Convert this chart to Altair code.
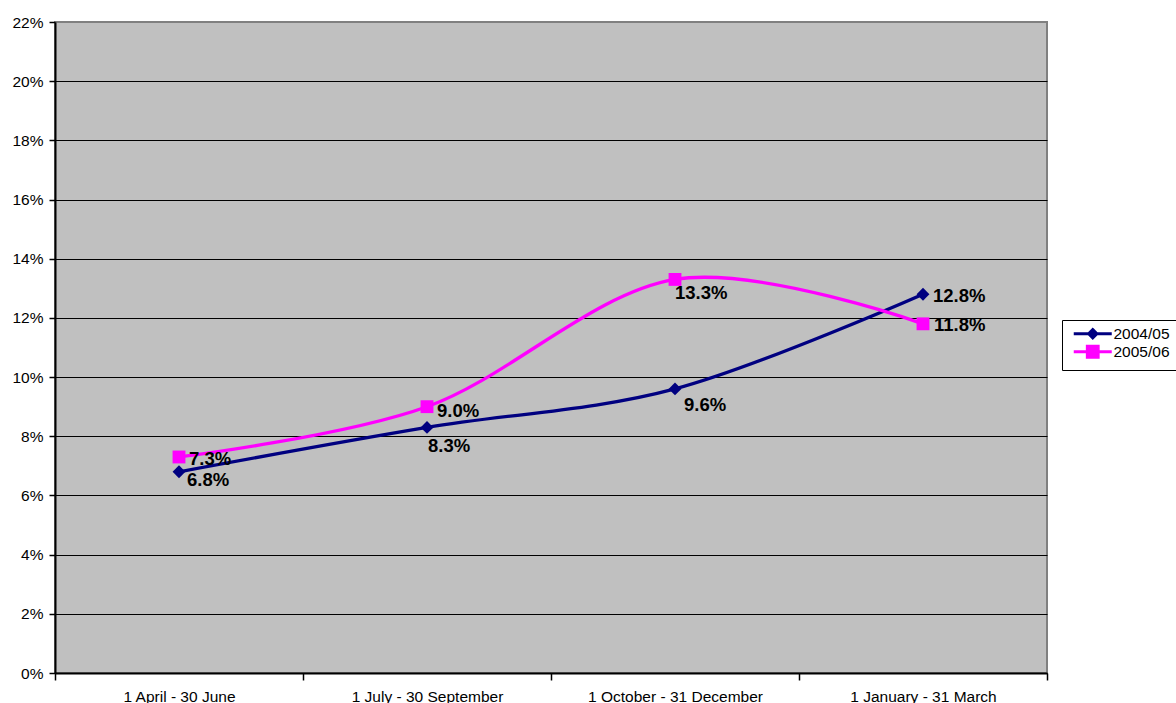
import altair as alt
import pandas as pd

# ---- data ----
categories = ["1 April - 30 June", "1 July - 30 September",
              "1 October - 31 December", "1 January - 31 March"]
series_names = ["2004/05", "2005/06"]
values_2004_05 = [6.8, 8.3, 9.6, 12.8]
values_2005_06 = [7.3, 9.0, 13.3, 11.8]
y_ticks = list(range(0, 23, 2))

rows = []
for s, vals in zip(series_names, [values_2004_05, values_2005_06]):
    for i, (c, v) in enumerate(zip(categories, vals)):
        rows.append({"series": s, "category": c, "idx": i, "pos": i + 0.5, "value": v})
df = pd.DataFrame(rows)

# ---- style ----
W, H = 992, 651
COLORS = ["#000080", "#FF00FF"]
SHAPES = ["diamond", "square"]
FONT = "Liberation Sans"
# label offsets (dx, dy) per series / quarter
label_offsets = {
    "2004/05": [(8, 8), (1, 19), (9, 16), (10, 2)],
    "2005/06": [(10, 2), (10, 4), (0, 14), (11, 1)],
}
# legend symbols: line segment + marker (scaled by symbolSize)
diamond_path = "M-3.8,0L3.8,0M0,-0.82L0.82,0L0,0.82L-0.82,0Z"
square_path = "M-3.8,0L3.8,0M-1.08,-1.08L1.08,-1.08L1.08,1.08L-1.08,1.08Z"

n = len(categories)
label_array = "[" + ",".join("'" + c + "'" for c in categories) + ",'']"

x_enc = alt.X(
    "pos:Q",
    scale=alt.Scale(domain=[0, n], nice=False, zero=False),
    axis=alt.Axis(
        values=list(range(n + 1)), labelExpr=label_array + "[datum.value]",
        labelOffset=W / n / 2, labelFlush=False, labelOverlap=False,
        title=None, grid=False, tickSize=7, labelPadding=9,
    ),
)
y_enc = alt.Y(
    "value:Q",
    scale=alt.Scale(domain=[0, 22], nice=False),
    axis=alt.Axis(
        values=y_ticks, labelExpr="datum.value + '%'", title=None,
        grid=True, gridColor="black", gridWidth=1.2,
        gridOpacity={"condition": {"test": "datum.value >= 22", "value": 0}, "value": 1},
        tickSize=6, labelPadding=6,
    ),
)
base = alt.Chart(df)

series_layers = []
for s, col, shp in zip(series_names, COLORS, SHAPES):
    sub = base.transform_filter(alt.datum.series == s)
    series_layers.append(
        sub.mark_line(interpolate="cardinal", strokeWidth=3.3, color=col)
        .encode(x=x_enc, y=y_enc, order=alt.Order("pos:Q"))
    )
    series_layers.append(
        sub.mark_point(shape=shp, filled=True, size=165, opacity=1, color=col)
        .encode(x=x_enc, y=y_enc)
    )

labels = []
for s in series_names:
    for i in range(n):
        dx, dy = label_offsets[s][i]
        labels.append(
            base.transform_filter((alt.datum.series == s) & (alt.datum.idx == i))
            .transform_calculate(label="format(datum.value, '.1f') + '%'")
            .mark_text(align="left", baseline="middle", dx=dx, dy=dy,
                       font=FONT, fontSize=18.5, fontWeight="bold", color="black")
            .encode(x=x_enc, y=y_enc, text="label:N")
        )

leg = alt.Legend(
    title=None, orient="none", legendX=1007, legendY=298,
    strokeColor="black", fillColor="white", padding=6,
    symbolSize=100, symbolStrokeWidth=3, symbolOffset=17, rowPadding=-4,
    labelFont=FONT, labelFontSize=15.5, labelColor="black", labelOffset=13,
)
# legend source: markers of size 0 (invisible in the plot); legend symbols use symbolSize
legend_layer = base.mark_point(
    filled=True, strokeWidth=3, opacity=1, size=0
).encode(
    x=x_enc, y=y_enc,
    fill=alt.Fill("series:N", scale=alt.Scale(domain=series_names, range=COLORS), legend=leg),
    stroke=alt.Stroke("series:N", scale=alt.Scale(domain=series_names, range=COLORS), legend=leg),
    shape=alt.Shape("series:N", scale=alt.Scale(domain=series_names, range=[diamond_path, square_path]), legend=leg),
)

chart = alt.layer(*series_layers, *labels, legend_layer).properties(
    width=W, height=H,
    padding={"left": 55, "top": 22, "right": 129, "bottom": 30},
    autosize="none",
).configure_view(
    fill="#C0C0C0", stroke="#808080", strokeWidth=2,
).configure_axis(
    domainColor="black", domainWidth=2, tickColor="black", tickWidth=1.5,
    labelColor="black", labelFont=FONT, labelFontSize=15.5,
)

chart.save("out.html", embed_options={"renderer": "svg", "actions": False})
